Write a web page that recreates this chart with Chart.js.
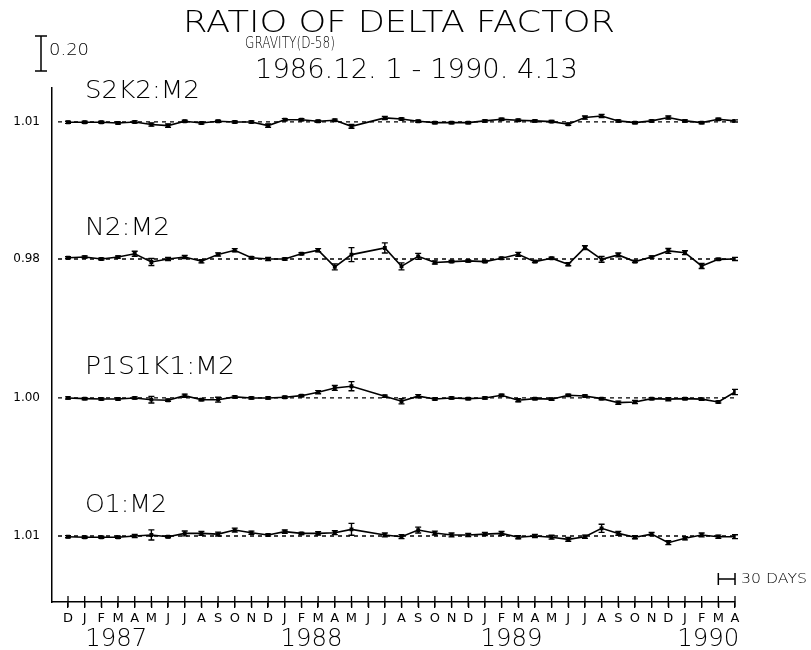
<!DOCTYPE html>
<html lang="en">
<head>
  <meta charset="UTF-8">
  <title>Ratio of Delta Factor</title>
  <script src="https://cdn.jsdelivr.net/npm/chart.js"></script>
  <style>
    body { margin: 0; background: #fff; }
    canvas { display: block; }
  </style>
</head>
<body>
  <canvas id="deltaChart" width="811" height="650"></canvas>
  <script>
    // month ticks, Dec 1986 .. Apr 1990 (one value per month, index 0..40)
    const months = ['D','J','F','M','A','M','J','J','A','S','O','N',
                    'D','J','F','M','A','M','J','J','A','S','O','N',
                    'D','J','F','M','A','M','J','J','A','S','O','N',
                    'D','J','F','M','A'];
    const years = ['1987', '1988', '1989', '1990'];
    const yearAt = [2.9, 14.6, 26.6, 38.4];

    const seriesNames = ['S2K2:M2', 'N2:M2', 'P1S1K1:M2', 'O1:M2'];
    const refLabels = ['1.01', '0.98', '1.00', '1.01'];

    // deviations from the reference ratio (same units as the 0.20 scale bar), null = no estimate
    const s2k2 = [-0.002,-0.002,-0.002,-0.006,0,-0.015,-0.021,0.004,-0.006,0.004,0,0,-0.021,0.013,0.013,0.004,0.010,-0.025,null,0.023,0.017,0.004,-0.004,-0.004,-0.004,0.006,0.015,0.010,0.006,0.002,-0.013,0.025,0.034,0.006,-0.004,0.006,0.025,0.006,-0.004,0.015,0.006];
    const s2k2Err = [0.006,0.006,0.006,0.006,0.006,0.009,0.009,0.006,0.006,0.006,0.006,0.006,0.009,0.006,0.006,0.006,0.006,0.011,null,0.009,0.006,0.006,0.006,0.006,0.006,0.006,0.006,0.006,0.006,0.006,0.006,0.009,0.009,0.006,0.006,0.006,0.009,0.006,0.006,0.006,0.006];

    const n2 = [0.007,0.011,0,0.011,0.030,-0.017,0,0.011,-0.013,0.026,0.050,0.007,0,0,0.030,0.050,-0.045,0.025,null,0.063,-0.042,0.015,-0.020,-0.015,-0.011,-0.015,0.004,0.027,-0.015,0.004,-0.030,0.065,-0.002,0.023,-0.015,0.011,0.046,0.036,-0.040,-0.002,0];
    const n2Err = [0.006,0.006,0.006,0.006,0.014,0.020,0.009,0.009,0.009,0.009,0.009,0.006,0.009,0.006,0.006,0.009,0.017,0.040,null,0.029,0.020,0.017,0.009,0.006,0.006,0.006,0.006,0.011,0.006,0.006,0.009,0.011,0.017,0.011,0.006,0.006,0.014,0.011,0.014,0.006,0.009];

    const p1s1k1 = [0,-0.004,-0.006,-0.006,0,-0.010,-0.013,0.013,-0.010,-0.010,0.006,0,0,0.004,0.013,0.033,0.057,0.067,null,0.010,-0.019,0.010,-0.006,0,-0.004,0,0.015,-0.013,-0.004,-0.007,0.015,0.011,-0.004,-0.027,-0.023,-0.004,-0.007,-0.004,-0.007,-0.023,0.034];
    const p1s1k1Err = [0.006,0.006,0.006,0.006,0.006,0.019,0.006,0.009,0.006,0.014,0.006,0.006,0.006,0.006,0.006,0.009,0.014,0.026,null,0.006,0.015,0.009,0.006,0.006,0.006,0.006,0.006,0.009,0.006,0.006,0.006,0.006,0.006,0.009,0.009,0.006,0.009,0.006,0.006,0.006,0.015];

    const o1 = [-0.004,-0.007,-0.007,-0.007,0,0.006,-0.004,0.015,0.015,0.011,0.034,0.019,0.006,0.025,0.015,0.015,0.019,0.038,null,0.006,-0.004,0.034,0.017,0.006,0.006,0.011,0.015,-0.007,0,-0.007,-0.019,-0.004,0.044,0.015,-0.007,0.011,-0.038,-0.013,0.006,-0.004,-0.004];
    const o1Err = [0.006,0.006,0.006,0.006,0.009,0.029,0.006,0.014,0.011,0.011,0.011,0.009,0.006,0.009,0.006,0.009,0.011,0.034,null,0.011,0.011,0.017,0.011,0.011,0.009,0.009,0.011,0.009,0.009,0.011,0.011,0.009,0.023,0.011,0.009,0.009,0.011,0.009,0.011,0.009,0.011];

    const allDev = [s2k2, n2, p1s1k1, o1];
    const allErr = [s2k2Err, n2Err, p1s1k1Err, o1Err];

    // where each series sits on the stacked y axis (scale bar: 0.20 units)
    const offsets = [2.743, 1.960, 1.166, 0.377];
    const Y_MAX = 2.937;
    const FONT = '"DejaVu Sans"';

    const datasets = [];
    allDev.forEach((dev, s) => {
      datasets.push({
        data: [{ x: -0.6, y: offsets[s] }, { x: 40, y: offsets[s] }],
        borderColor: '#000',
        borderWidth: 1.3,
        borderDash: [4, 4],
        pointRadius: 0
      });
      datasets.push({
        data: dev.map((v, i) => ({ x: i, y: v === null ? null : offsets[s] + v })),
        errors: allErr[s],
        borderColor: '#000',
        backgroundColor: '#000',
        borderWidth: 1.6,
        pointStyle: 'rect',
        pointRadius: 1.6,
        spanGaps: true
      });
    });

    // draw text squeezed to a given width (plotter lettering is narrow)
    function fitText(ctx, text, x, y, size, width, align) {
      ctx.font = '200 ' + size + 'px ' + FONT;
      const w = ctx.measureText(text).width;
      const sx = width / w;
      ctx.save();
      ctx.translate(align === 'center' ? x - width / 2 : x, y);
      ctx.scale(sx, 1);
      ctx.textAlign = 'left';
      ctx.textBaseline = 'alphabetic';
      ctx.fillText(text, 0, 0);
      ctx.restore();
    }

    const errorBars = {
      id: 'errorBars',
      afterDatasetsDraw(chart) {
        const ctx = chart.ctx;
        const yScale = chart.scales.y;
        ctx.save();
        ctx.strokeStyle = '#000';
        ctx.lineWidth = 1.4;
        chart.data.datasets.forEach((ds, d) => {
          if (!ds.errors) return;
          const meta = chart.getDatasetMeta(d);
          ds.data.forEach((pt, i) => {
            if (pt.y === null || ds.errors[i] === null) return;
            const x = meta.data[i].x;
            const top = yScale.getPixelForValue(pt.y + ds.errors[i]);
            const bot = yScale.getPixelForValue(pt.y - ds.errors[i]);
            ctx.beginPath();
            ctx.moveTo(x, top); ctx.lineTo(x, bot);
            ctx.moveTo(x - 3, top); ctx.lineTo(x + 3, top);
            ctx.moveTo(x - 3, bot); ctx.lineTo(x + 3, bot);
            ctx.stroke();
          });
        });
        ctx.restore();
      }
    };

    const decorations = {
      id: 'decorations',
      afterDraw(chart) {
        const ctx = chart.ctx;
        const xScale = chart.scales.x;
        const yScale = chart.scales.y;
        const area = chart.chartArea;
        ctx.save();
        ctx.fillStyle = '#000';
        ctx.strokeStyle = '#000';
        ctx.lineWidth = 1.3;

        // month ticks cross the axis line
        xScale.ticks.forEach(t => {
          const x = xScale.getPixelForValue(t.value);
          ctx.beginPath();
          ctx.moveTo(x, area.bottom - 6);
          ctx.lineTo(x, area.bottom + 5);
          ctx.stroke();
        });

        // years under the month letters
        years.forEach((yr, i) => {
          fitText(ctx, yr, xScale.getPixelForValue(yearAt[i]), 646, 25, 62, 'center');
        });

        // titles
        fitText(ctx, 'RATIO OF DELTA FACTOR', 183, 32, 30, 432);
        fitText(ctx, 'GRAVITY(D-58)', 245, 48, 16, 90);
        fitText(ctx, '1986.12. 1 - 1990. 4.13', 255, 78, 27, 323);

        // series names above each reference line
        const nameWidths = [115, 85, 150, 82];
        seriesNames.forEach((name, s) => {
          const yRef = yScale.getPixelForValue(offsets[s]);
          fitText(ctx, name, 85, yRef - 24, 24, nameWidths[s]);
        });

        // vertical scale bar 0.20
        const barTop = 36;
        const barLen = yScale.getPixelForValue(0) - yScale.getPixelForValue(0.2);
        ctx.lineWidth = 1.5;
        ctx.beginPath();
        ctx.moveTo(41, barTop); ctx.lineTo(41, barTop + barLen);
        ctx.moveTo(35, barTop); ctx.lineTo(47, barTop);
        ctx.moveTo(35, barTop + barLen); ctx.lineTo(47, barTop + barLen);
        ctx.stroke();
        fitText(ctx, '0.20', 49, 55, 15, 40);

        // 30 days bar (one month on the x scale)
        const x0 = xScale.getPixelForValue(39);
        const x1 = xScale.getPixelForValue(40);
        ctx.beginPath();
        ctx.moveTo(x0, 579); ctx.lineTo(x1, 579);
        ctx.moveTo(x0, 573); ctx.lineTo(x0, 585);
        ctx.moveTo(x1, 573); ctx.lineTo(x1, 585);
        ctx.stroke();
        fitText(ctx, '30 DAYS', 741, 583, 14, 66);

        ctx.restore();
      }
    };

    new Chart(document.getElementById('deltaChart').getContext('2d'), {
      type: 'line',
      data: { datasets: datasets },
      options: {
        responsive: false,
        animation: false,
        layout: { padding: { top: 88, right: 76, left: 0, bottom: 0 } },
        plugins: { legend: { display: false }, tooltip: { enabled: false } },
        scales: {
          x: {
            type: 'linear',
            min: -0.96,
            max: 40,
            afterBuildTicks: scale => { scale.ticks = months.map((m, i) => ({ value: i })); },
            afterFit: scale => { scale.height = 48; },
            ticks: {
              autoSkip: false,
              maxRotation: 0,
              padding: 3,
              color: '#000',
              font: { family: 'DejaVu Sans', size: 13 },
              callback: v => months[v]
            },
            grid: { drawOnChartArea: false, tickLength: 6, color: '#000', lineWidth: 1.3 },
            border: { display: true, color: '#000', width: 1.5 }
          },
          y: {
            type: 'linear',
            min: 0,
            max: Y_MAX,
            afterBuildTicks: scale => { scale.ticks = offsets.map(v => ({ value: v })); },
            afterFit: scale => { scale.width = 52; },
            ticks: {
              padding: 4,
              color: '#000',
              font: { family: 'DejaVu Sans', size: 12 },
              callback: (v, i) => refLabels[i]
            },
            grid: { display: false },
            border: { display: true, color: '#000', width: 1.5 }
          }
        }
      },
      plugins: [errorBars, decorations]
    });
  </script>
</body>
</html>
